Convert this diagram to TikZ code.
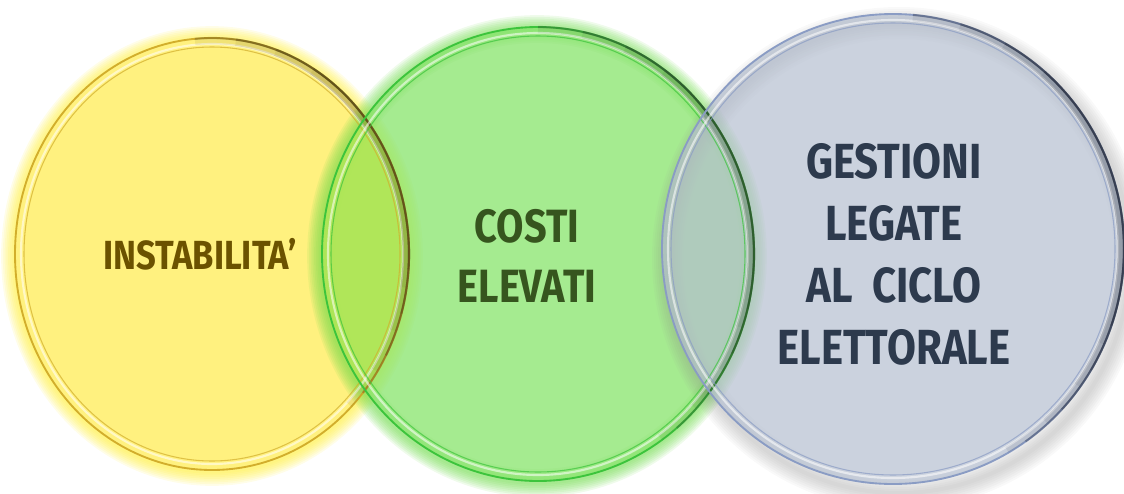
\documentclass[tikz,border=0pt]{standalone}
\usepackage{fontspec}
\newfontfamily\vennfont{Fira Sans}[FakeStretch=0.85]

\definecolor{yelfill}{HTML}{FFF17F}
\definecolor{yelglow}{HTML}{FFEE30}
\definecolor{yelrim}{HTML}{D2AE2C}
\definecolor{yeldark}{HTML}{4E4218}
\definecolor{yeltext}{HTML}{6B5200}
\definecolor{grnfill}{HTML}{87E46B}
\definecolor{grnglow}{HTML}{6CDA48}
\definecolor{grnrim}{HTML}{3CC43C}
\definecolor{grndark}{HTML}{2D4A2D}
\definecolor{grntext}{HTML}{36551E}
\definecolor{overlap}{HTML}{B2E655}
\definecolor{blufill}{HTML}{B5BFD0}
\definecolor{blushadow}{HTML}{8A8A8A}
\definecolor{blurim}{HTML}{8A9CC4}
\definecolor{bludark}{HTML}{262C3A}
\definecolor{blutext}{HTML}{2D3A4D}

\tikzset{
    ringlight/.style={white, opacity=0.55, line width=1.6pt},
    darksoft/.style={line width=5pt, opacity=0.08},
    darkedge/.style={line width=1.6pt, opacity=0.3},
    vennlabel/.style={align=center, inner sep=0pt},
}

\begin{document}
\begin{tikzpicture}[x=0.75pt, y=-0.75pt]
    \useasboundingbox (0,0) rectangle (1124,493);

    %% yellow fill
    \foreach \g in {1,...,8}
        \draw[yelglow, opacity=0.11, line width=\g*2.6pt] (212,256) ellipse [x radius=197, y radius=216];
    \fill[yelfill] (212,254) ellipse [x radius=197, y radius=216];

    %% green fill
    \foreach \g in {1,...,8}
        \draw[grnglow, opacity=0.11, line width=\g*2.6pt] (537,256) ellipse [x radius=216, y radius=227];
    \fill[grnfill, opacity=0.75] (538,254) ellipse [x radius=216, y radius=227];
    \begin{scope}
        \clip (212,254) ellipse [x radius=197, y radius=216];
        \fill[overlap, opacity=0.85] (538,254) ellipse [x radius=216, y radius=227];
    \end{scope}

    %% blue fill
    \foreach \g in {1,...,8}
        \draw[blushadow, opacity=0.05, line width=\g*3pt] (899,258) ellipse [x radius=231, y radius=235];
    \fill[blufill, opacity=0.7] (893,249) ellipse [x radius=231, y radius=235];

    %% yellow rim
    \draw[yelrim, line width=1.4pt] (212,254) ellipse [x radius=197, y radius=216];
    \draw[ringlight] (212,254) ellipse [x radius=191, y radius=210];
    \draw[yelrim, opacity=0.7, line width=0.8pt] (212,254) ellipse [x radius=188, y radius=207];
    \foreach \d in {0, 12, 24, 36} {
        \draw[yeldark, darksoft]
            ([shift={(-95+\d:194 and 213)}]212,254) arc [start angle=-95+\d, end angle=45-\d, x radius=194, y radius=213];
        \draw[yeldark, darkedge]
            ([shift={(-95+\d:197 and 216)}]212,254) arc [start angle=-95+\d, end angle=40-\d, x radius=197, y radius=216];
    }

    %% green rim
    \draw[grnrim, line width=1.4pt] (538,254) ellipse [x radius=216, y radius=227];
    \draw[ringlight] (538,254) ellipse [x radius=210, y radius=221];
    \draw[grnrim, opacity=0.7, line width=0.8pt] (538,254) ellipse [x radius=207, y radius=218];
    \foreach \d in {0, 12, 24, 36} {
        \draw[grndark, darksoft]
            ([shift={(-90+\d:213 and 224)}]538,254) arc [start angle=-90+\d, end angle=55-\d, x radius=213, y radius=224];
        \draw[grndark, darkedge]
            ([shift={(-90+\d:216 and 227)}]538,254) arc [start angle=-90+\d, end angle=50-\d, x radius=216, y radius=227];
    }

    %% blue rim
    \draw[blurim, line width=1.4pt] (893,249) ellipse [x radius=231, y radius=235];
    \draw[ringlight] (893,249) ellipse [x radius=225, y radius=229];
    \draw[blurim, opacity=0.7, line width=0.8pt] (893,249) ellipse [x radius=222, y radius=226];
    \foreach \d in {0, 12, 24, 36} {
        \draw[bludark, darksoft]
            ([shift={(-85+\d:228 and 232)}]893,249) arc [start angle=-85+\d, end angle=60-\d, x radius=228, y radius=232];
        \draw[bludark, darkedge]
            ([shift={(-85+\d:231 and 235)}]893,249) arc [start angle=-85+\d, end angle=55-\d, x radius=231, y radius=235];
    }

    %% labels
    \node[vennlabel, text=yeltext, font=\vennfont\bfseries\fontsize{30.5}{36}\selectfont] (instab) at (200,254) {INSTABILITA’};
    \node[vennlabel, text=grntext, font=\vennfont\bfseries\fontsize{35}{45}\selectfont] (costi) at (527,256) {COSTI\\ELEVATI};
    \node[vennlabel, text=blutext, font=\vennfont\bfseries\fontsize{37}{46.5}\selectfont] (gestioni) at (894,254) {GESTIONI\\LEGATE\\AL\ \ CICLO\\ELETTORALE};
\end{tikzpicture}
\end{document}
